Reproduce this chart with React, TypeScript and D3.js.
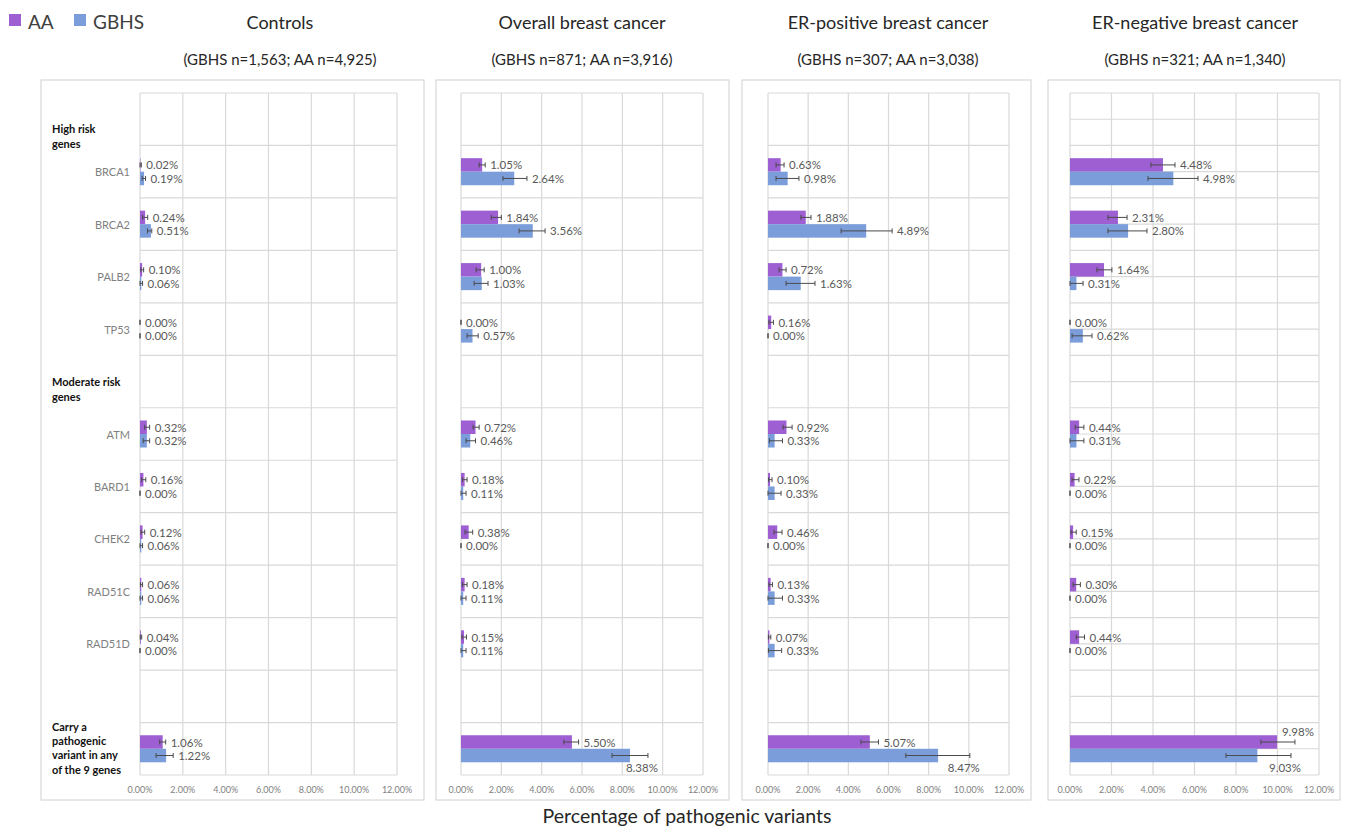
import React from "react";
import * as d3 from "d3";

// ---------- DATA ----------
const seriesNames = ["AA", "GBHS"];
const rowKeys = ["hdrHigh", "BRCA1", "BRCA2", "PALB2", "TP53", "hdrMod", "ATM", "BARD1", "CHEK2", "RAD51C", "RAD51D", "blank", "Carry"];
const genes = ["BRCA1", "BRCA2", "PALB2", "TP53", "ATM", "BARD1", "CHEK2", "RAD51C", "RAD51D", "Carry"];
const geneLabels = ["BRCA1", "BRCA2", "PALB2", "TP53", "ATM", "BARD1", "CHEK2", "RAD51C", "RAD51D", ""];
const headerHigh = ["High risk", "genes"];
const headerMod = ["Moderate risk", "genes"];
const headerCarry = ["Carry a", "pathogenic", "variant in any", "of the 9 genes"];
const panelTitles = ["Controls", "Overall breast cancer", "ER-positive breast cancer", "ER-negative breast cancer"];
const panelSubtitles = [
  "(GBHS n=1,563; AA n=4,925)",
  "(GBHS n=871; AA n=3,916)",
  "(GBHS n=307; AA n=3,038)",
  "(GBHS n=321; AA n=1,340)",
];
const xTicks = [0, 2, 4, 6, 8, 10, 12];
const axisTitle = "Percentage of pathogenic variants";

// values (%)
const controlsAA = [0.02, 0.24, 0.10, 0.00, 0.32, 0.16, 0.12, 0.06, 0.04, 1.06];
const controlsGBHS = [0.19, 0.51, 0.06, 0.00, 0.32, 0.00, 0.06, 0.06, 0.00, 1.22];
const overallAA = [1.05, 1.84, 1.00, 0.00, 0.72, 0.18, 0.38, 0.18, 0.15, 5.50];
const overallGBHS = [2.64, 3.56, 1.03, 0.57, 0.46, 0.11, 0.00, 0.11, 0.11, 8.38];
const erPosAA = [0.63, 1.88, 0.72, 0.16, 0.92, 0.10, 0.46, 0.13, 0.07, 5.07];
const erPosGBHS = [0.98, 4.89, 1.63, 0.00, 0.33, 0.33, 0.00, 0.33, 0.33, 8.47];
const erNegAA = [4.48, 2.31, 1.64, 0.00, 0.44, 0.22, 0.15, 0.30, 0.44, 9.98];
const erNegGBHS = [4.98, 2.80, 0.31, 0.62, 0.31, 0.00, 0.00, 0.00, 0.00, 9.03];

// confidence interval bounds (%)
const controlsAALow = [0.00, 0.12, 0.04, 0.00, 0.22, 0.08, 0.05, 0.02, 0.01, 0.92];
const controlsAAHigh = [0.06, 0.36, 0.17, 0.00, 0.45, 0.27, 0.22, 0.12, 0.08, 1.20];
const controlsGBHSLow = [0.10, 0.35, 0.00, 0.00, 0.15, 0.00, 0.00, 0.00, 0.00, 0.75];
const controlsGBHSHigh = [0.26, 0.55, 0.12, 0.00, 0.45, 0.00, 0.12, 0.12, 0.00, 1.55];
const overallAALow = [0.90, 1.50, 0.75, 0.00, 0.60, 0.07, 0.20, 0.07, 0.05, 5.10];
const overallAAHigh = [1.20, 2.00, 1.15, 0.00, 0.90, 0.30, 0.58, 0.30, 0.27, 5.83];
const overallGBHSLow = [2.08, 2.88, 0.65, 0.30, 0.25, 0.00, 0.00, 0.00, 0.00, 7.49];
const overallGBHSHigh = [3.27, 4.17, 1.34, 0.85, 0.72, 0.25, 0.00, 0.25, 0.25, 9.27];
const erPosAALow = [0.40, 1.64, 0.55, 0.05, 0.75, 0.03, 0.30, 0.05, 0.02, 4.63];
const erPosAAHigh = [0.80, 2.14, 0.90, 0.27, 1.20, 0.20, 0.70, 0.22, 0.14, 5.50];
const erPosGBHSLow = [0.40, 3.64, 0.90, 0.00, 0.07, 0.00, 0.00, 0.00, 0.02, 6.86];
const erPosGBHSHigh = [1.54, 6.18, 2.34, 0.00, 0.72, 0.65, 0.00, 0.72, 0.68, 10.05];
const erNegAALow = [3.90, 1.83, 1.30, 0.00, 0.25, 0.10, 0.05, 0.15, 0.30, 9.20];
const erNegAAHigh = [5.06, 2.75, 2.02, 0.00, 0.67, 0.43, 0.30, 0.50, 0.70, 10.84];
const erNegGBHSLow = [3.76, 1.83, 0.00, 0.10, 0.00, 0.00, 0.00, 0.00, 0.00, 7.52];
const erNegGBHSHigh = [6.17, 3.71, 0.63, 1.06, 0.67, 0.00, 0.00, 0.00, 0.00, 10.65];

const panelSeries = [
  { aa: controlsAA, gb: controlsGBHS, aaLo: controlsAALow, aaHi: controlsAAHigh, gbLo: controlsGBHSLow, gbHi: controlsGBHSHigh },
  { aa: overallAA, gb: overallGBHS, aaLo: overallAALow, aaHi: overallAAHigh, gbLo: overallGBHSLow, gbHi: overallGBHSHigh },
  { aa: erPosAA, gb: erPosGBHS, aaLo: erPosAALow, aaHi: erPosAAHigh, gbLo: erPosGBHSLow, gbHi: erPosGBHSHigh },
  { aa: erNegAA, gb: erNegGBHS, aaLo: erNegAALow, aaHi: erNegAAHigh, gbLo: erNegGBHSLow, gbHi: erNegGBHSHigh },
];

// ---------- LAYOUT / STYLE ----------
const W = 1346;
const H = 836;
const FONT = "Lato, 'Open Sans', 'DejaVu Sans', sans-serif";
const colors = { AA: "#9e5fd2", GBHS: "#7b9edb" };
const gridColor = "#d9d9d9";
const plotTop = 93;
const plotBottom = 775;
const boxTop = 80;
const boxBottom = 800;
const boxes = [
  { x0: 41, x1: 424 },
  { x0: 436, x1: 729 },
  { x0: 742, x1: 1031 },
  { x0: 1048, x1: 1340 },
];
const plots = [
  { x0: 140, x1: 397, titleX: 280, halfGrid: false },
  { x0: 461, x1: 703, titleX: 582, halfGrid: false },
  { x0: 768, x1: 1009, titleX: 888, halfGrid: false },
  { x0: 1070, x1: 1319, titleX: 1195, halfGrid: true },
];

const yRow = d3.scaleBand<string>().domain(rowKeys).range([plotTop, plotBottom]).padding(0);
const ySeries = d3
  .scaleBand<string>()
  .domain(seriesNames)
  .range([0, yRow.bandwidth()])
  .paddingInner(0)
  .paddingOuter(0.94);

const fmt = (v: number) => v.toFixed(2) + "%";

function Panel({ idx }: { idx: number }) {
  const p = plots[idx];
  const b = boxes[idx];
  const s = panelSeries[idx];
  const x = d3.scaleLinear().domain([0, 12]).range([p.x0, p.x1]);
  const rowBounds = d3.range(rowKeys.length + 1).map((i) => plotTop + i * yRow.step());
  const halfLines = p.halfGrid ? rowKeys.map((k) => (yRow(k) as number) + yRow.bandwidth() / 2) : [];

  const marks: React.ReactNode[] = [];
  genes.forEach((g, gi) => {
    const rowY = yRow(g) as number;
    const defs = [
      { name: "AA", v: s.aa[gi], lo: s.aaLo[gi], hi: s.aaHi[gi] },
      { name: "GBHS", v: s.gb[gi], lo: s.gbLo[gi], hi: s.gbHi[gi] },
    ];
    defs.forEach((d) => {
      const by = rowY + (ySeries(d.name) as number);
      const bh = ySeries.bandwidth();
      const cy = by + bh / 2;
      const xe = x(d.v);
      const xl = x(d.lo);
      const xh = x(d.hi);
      marks.push(
        <rect key={`b-${g}-${d.name}`} x={x(0)} y={by} width={Math.max(0, xe - x(0))} height={bh} fill={(colors as any)[d.name]} />
      );
      marks.push(
        <g key={`e-${g}-${d.name}`} stroke="#4a4a4a" strokeWidth={1}>
          <line x1={xl} x2={xh} y1={cy} y2={cy} />
          <line x1={xl} x2={xl} y1={cy - 2.5} y2={cy + 2.5} />
          <line x1={xh} x2={xh} y1={cy - 2.5} y2={cy + 2.5} />
        </g>
      );
      const isCarry = g === "Carry";
      let lx = Math.max(xe, xh) + 5;
      let ly = cy;
      let anchor: "start" | "middle" = "start";
      if (isCarry && d.v > 8 && d.name === "GBHS") {
        lx = xh - 6;
        ly = by + bh + 5;
        anchor = "middle";
      } else if (isCarry && d.v > 8 && d.name === "AA") {
        lx = xh + 3;
        ly = by - 4;
        anchor = "middle";
      }
      marks.push(
        <text
          key={`l-${g}-${d.name}`}
          x={lx}
          y={ly}
          textAnchor={anchor}
          dominantBaseline="central"
          fontSize={11.5}
          fill="#595959"
        >
          {fmt(d.v)}
        </text>
      );
    });
  });

  return (
    <g>
      <rect x={b.x0} y={boxTop} width={b.x1 - b.x0} height={boxBottom - boxTop} fill="#fff" stroke="#d0d0d0" strokeWidth={1} />
      <text x={p.titleX} y={22} textAnchor="middle" dominantBaseline="central" fontSize={18} fill="#262626">
        {panelTitles[idx]}
      </text>
      <text x={p.titleX} y={59} textAnchor="middle" dominantBaseline="central" fontSize={15} fill="#262626">
        {panelSubtitles[idx]}
      </text>
      {halfLines.map((yy, i) => (
        <line key={`h2-${i}`} x1={p.x0} x2={p.x1} y1={yy} y2={yy} stroke={gridColor} strokeWidth={1.2} />
      ))}
      {rowBounds.map((yy, i) => (
        <line key={`h-${i}`} x1={p.x0} x2={p.x1} y1={yy} y2={yy} stroke={gridColor} strokeWidth={1.2} />
      ))}
      {xTicks.map((t) => (
        <g key={`t-${t}`}>
          <line x1={x(t)} x2={x(t)} y1={plotTop} y2={plotBottom} stroke={gridColor} strokeWidth={1.2} />
          <text x={x(t)} y={789} textAnchor="middle" dominantBaseline="central" fontSize={9} fill="#7f7f7f">
            {t.toFixed(2) + "%"}
          </text>
        </g>
      ))}
      {marks}
    </g>
  );
}

export default function App() {
  const rowCenter = (k: string) => (yRow(k) as number) + yRow.bandwidth() / 2;
  const labelX = plots[0].x0 - 10;
  const hdrX = 52;
  return (
    <svg
      width={W}
      height={H}
      viewBox={`0 0 ${W} ${H}`}
      style={{ position: "absolute", left: 0, top: 0, display: "block", background: "#fff" }}
      fontFamily={FONT}
    >
      <rect x={0} y={0} width={W} height={H} fill="#fff" />
      {/* legend */}
      <rect x={9} y={14} width={12} height={12} fill={colors.AA} />
      <text x={28} y={21} dominantBaseline="central" fontSize={19} fill="#404040">
        {seriesNames[0]}
      </text>
      <rect x={74} y={14} width={12} height={12} fill={colors.GBHS} />
      <text x={93} y={21} dominantBaseline="central" fontSize={19} fill="#404040">
        {seriesNames[1]}
      </text>

      {plots.map((_, i) => (
        <Panel key={i} idx={i} />
      ))}

      {/* category labels in first panel */}
      {genes.map((g, gi) =>
        geneLabels[gi] ? (
          <text key={`g-${g}`} x={labelX} y={rowCenter(g)} textAnchor="end" dominantBaseline="central" fontSize={11} fill="#7f7f7f">
            {geneLabels[gi]}
          </text>
        ) : null
      )}
      {headerHigh.map((t, i) => (
        <text key={`hh-${i}`} x={hdrX} y={rowCenter("hdrHigh") + 9.5 + i * 14.3} dominantBaseline="central" fontSize={11} fontWeight="bold" fill="#111">
          {t}
        </text>
      ))}
      {headerMod.map((t, i) => (
        <text key={`hm-${i}`} x={hdrX} y={rowCenter("hdrMod") + i * 14.5} dominantBaseline="central" fontSize={11} fontWeight="bold" fill="#111">
          {t}
        </text>
      ))}
      {headerCarry.map((t, i) => (
        <text key={`hc-${i}`} x={hdrX} y={rowCenter("Carry") - 22.5 + i * 14.3} dominantBaseline="central" fontSize={11} fontWeight="bold" fill="#111">
          {t}
        </text>
      ))}

      <text x={687} y={815} textAnchor="middle" dominantBaseline="central" fontSize={19.5} fill="#262626">
        {axisTitle}
      </text>
    </svg>
  );
}
